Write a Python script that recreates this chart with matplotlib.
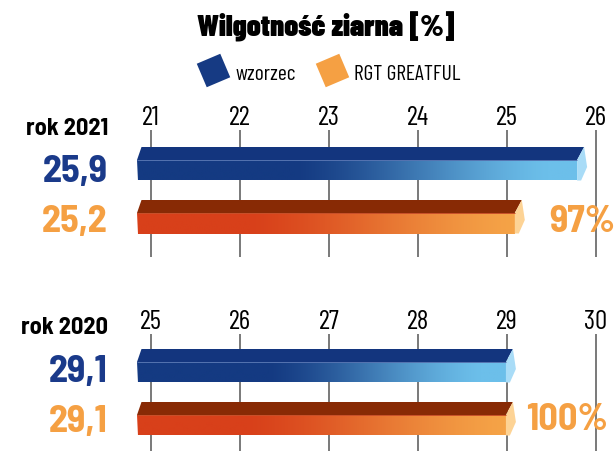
import numpy as np
import matplotlib
matplotlib.use("Agg")
import matplotlib.pyplot as plt
from matplotlib.patches import Polygon
from matplotlib.colors import to_rgb

# ---------------- data ----------------
title = "Wilgotność ziarna [%]"
series_names = ["wzorzec", "RGT GREATFUL"]
years = ["rok 2021", "rok 2020"]
wzorzec = [25.9, 29.1]
rgt_greatful = [25.2, 29.1]
relative = ["97%", "100%"]
ticks_2021 = [21, 22, 23, 24, 25, 26]
ticks_2020 = [25, 26, 27, 28, 29, 30]

# ---------------- style ----------------
W, H = 616, 452
COND = "Barlow Condensed"
SEMI = "Barlow Semi Condensed"
TXT_COL = ["#1a3a8a", "#f5a043"]
LEG_COL = ["#163a83", "#f5a043"]
STY = [
    dict(top="#13357e", dark="#143a82", light="#6cbfea", cap="#a9dcf7", edge="#5573b0",
         ramp=(0.36, 0.93)),
    dict(top="#882a05", dark="#d8401a", light="#f5a347", cap="#fdd395", edge="#c8502a",
         ramp=(0.30, 0.99)),
]

fig = plt.figure(figsize=(W / 100, H / 100), dpi=100)

# overlay axes in pixel units for title and legend
ov = fig.add_axes([0, 0, 1, 1])
ov.set_xlim(0, W)
ov.set_ylim(H, 0)
ov.axis("off")
ov.text(326, 37, title, ha="center", va="baseline", fontsize=22,
        fontweight="black", family=COND, color="black")
leg_x = [213, 332]
for i, name in enumerate(series_names):
    ov.plot(leg_x[i], 71, marker=(4, 0, -22), ms=26, color=LEG_COL[i], mec="none", ls="none")
    ov.text(leg_x[i] + 22, 80, name, ha="left", va="baseline", fontsize=15.5,
            family=COND, fontweight="normal", color="black")


def gradient_rgb(c0, c1, ramp, n=300):
    a, b = ramp
    t = np.linspace(0, 1, n)
    f = np.clip((t - a) / (b - a), 0, 1)
    f = 0.5 * f + 0.5 * f * f * (3 - 2 * f)
    c0 = np.array(to_rgb(c0))
    c1 = np.array(to_rgb(c1))
    return (c0[None, :] * (1 - f[:, None]) + c1[None, :] * f[:, None])[None, :, :]


def draw_bar(ax, val, start, ytop, sty, px):
    # ytop: pixel row of the top face; depth 13 px, front 20.5 px
    yf0 = ytop + 13
    yf1 = yf0 + 20.5
    X = val
    fe = X - 10 * px  # front face right edge
    top = Polygon([(start + 4.5 * px, ytop), (X - 3 * px, ytop), (fe, yf0), (start, yf0)],
                  closed=True, fc=sty["top"], ec="none", zorder=3)
    ax.add_patch(top)
    front = Polygon([(start, yf0), (fe, yf0), (fe, yf1), (start + 1.5 * px, yf1)],
                    closed=True, fc="none", ec="none", zorder=3)
    ax.add_patch(front)
    im = ax.imshow(gradient_rgb(sty["dark"], sty["light"], sty["ramp"]),
                   extent=(start, fe, yf1, yf0), aspect="auto", zorder=3,
                   interpolation="bilinear")
    im.set_clip_path(front)
    cap = Polygon([(fe, yf0), (X - 3 * px, ytop), (X, yf0 + 7), (X - 6 * px, yf1), (fe, yf1)],
                  closed=True, fc=sty["cap"], ec="none", zorder=4)
    ax.add_patch(cap)
    ax.plot([start, fe], [yf0, yf0], color=sty["edge"], lw=0.7, zorder=4, solid_capstyle="butt")


panels = [
    dict(ticks=ticks_2021, tick_base=125, grid=(131, 258), bar_tops=(148, 201),
         year_base=135, val_base=(182, 232), rel_x=615, rel_base=232),
    dict(ticks=ticks_2020, tick_base=329, grid=(335, 452), bar_tops=(350, 403),
         year_base=334, val_base=(382, 432), rel_x=608, rel_base=430),
]

for p, (pan, year) in enumerate(zip(panels, years)):
    ax = fig.add_axes([0, 0, 1, 1])
    ax.patch.set_alpha(0)
    ax.axis("off")
    ticks = pan["ticks"]
    px = (ticks[-1] - ticks[0]) / (596 - 151)
    xmin = ticks[0] - 151 * px
    # grid and tick labels
    ax.vlines(ticks, pan["grid"][0], pan["grid"][1], color="#626262", lw=1.2, zorder=1)
    for t in ticks:
        ax.text(t, pan["tick_base"], str(t), ha="center", va="baseline", fontsize=19.5,
                family=COND, fontweight="normal", color="black")
    vals = [wzorzec[p], rgt_greatful[p]]
    start = ticks[0] - 14 * px
    for s, v in enumerate(vals):
        draw_bar(ax, v, start, pan["bar_tops"][s], STY[s], px)
        ax.text(xmin + 108 * px, pan["val_base"][s], f"{v:.1f}".replace(".", ","),
                ha="right", va="baseline", fontsize=27.5, fontweight="bold",
                family=SEMI, color=TXT_COL[s])
    ax.text(xmin + 108 * px, pan["year_base"], year, ha="right", va="baseline",
            fontsize=17.5, fontweight="bold", family=SEMI, color="black")
    ax.text(xmin + pan["rel_x"] * px, pan["rel_base"], relative[p], ha="right",
            va="baseline", fontsize=27.5, fontweight="bold", family=SEMI, color=TXT_COL[1])
    ax.set_xlim(xmin, xmin + W * px)
    ax.set_ylim(H, 0)

fig.savefig("out.png", dpi=100)
